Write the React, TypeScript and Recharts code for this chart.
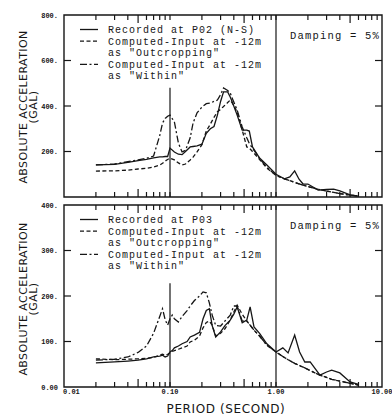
import React from "react";
import {
  LineChart,
  Line,
  XAxis,
  YAxis,
  ReferenceArea,
  ReferenceLine,
  Legend,
} from "recharts";

// period axis (log), shared by both panels
const X_TICKS = [
  0.01, 0.02, 0.03, 0.04, 0.05, 0.06, 0.07, 0.08, 0.09, 0.1, 0.2, 0.3, 0.4,
  0.5, 0.6, 0.7, 0.8, 0.9, 1, 2, 3, 4, 5, 6, 7, 8, 9, 10,
];
const X_LABELS = [0.01, 0.1, 1, 10];

const TOP_Y_TICKS = [200, 400, 600, 800];
const BOT_Y_TICKS = [0, 100, 200, 300, 400];

const TOP_LEGEND = [
  "Recorded at P02 (N-S)",
  "Computed-Input at -12m",
  'as "Outcropping"',
  "Computed-Input at -12m",
  'as "Within"',
];
const BOT_LEGEND = [
  "Recorded at P03",
  "Computed-Input at -12m",
  'as "Outcropping"',
  "Computed-Input at -12m",
  'as "Within"',
];
const DAMPING = "Damping = 5%";

// top panel: P02 (N-S)
const TOP_PERIOD = [
  0.02, 0.03, 0.04, 0.05, 0.06, 0.07, 0.08, 0.085, 0.09, 0.095,
  0.1, 0.11, 0.12, 0.13, 0.14, 0.155, 0.165, 0.18, 0.2, 0.22,
  0.24, 0.26, 0.28, 0.3, 0.32, 0.35, 0.37, 0.39, 0.43, 0.48,
  0.53, 0.56, 0.6, 0.7, 0.82, 1.0, 1.2, 1.35, 1.5, 1.65,
  1.8, 2.0, 2.5, 3.0, 3.5, 4.0, 5.0, 6.0,
];
const TOP_REC = [
  141, 143, 152, 160, 165, 172, 176, 176, 178, 178,
  215, 198, 188, 186, 200, 220, 222, 225, 232, 280,
  300, 310, 360, 420, 462, 462, 440, 413, 360, 294,
  294, 290, 220, 171, 141, 100, 80, 88, 115, 78,
  57, 57, 30, 33, 35, 27, 9, 4,
];
const TOP_OUT = [
  114, 115, 118, 123, 126, 132, 140, 148, 158, 165,
  171, 163, 150, 141, 145, 163, 175, 198, 230, 290,
  320, 350, 375, 385, 398, 415, 426, 410, 374, 294,
  220, 215, 200, 165, 127, 95, 80, 72, 64, 58,
  52, 46, 34, 26, 20, 15, 8, 4,
];
const TOP_WIN = [
  141, 145, 155, 163, 170, 180, 270, 325, 345, 355,
  360, 330, 237, 198, 205, 260, 325, 370, 395, 410,
  413, 420, 426, 450, 479, 468, 457, 430, 382, 308,
  260, 235, 215, 170, 130, 95, 80, 72, 64, 58,
  52, 46, 34, 26, 20, 15, 8, 4,
];

// bottom panel: P03
const BOT_PERIOD = [
  0.02, 0.03, 0.04, 0.05, 0.06, 0.07, 0.08, 0.085, 0.09, 0.095,
  0.1, 0.105, 0.11, 0.12, 0.13, 0.145, 0.155, 0.17, 0.19, 0.205,
  0.22, 0.235, 0.25, 0.27, 0.3, 0.33, 0.37, 0.4, 0.43, 0.48,
  0.53, 0.57, 0.62, 0.7, 0.82, 1.0, 1.16, 1.3, 1.5, 1.67,
  1.87, 2.1, 2.6, 3.0, 3.35, 4.0, 5.0, 6.0,
];
const BOT_REC = [
  53, 55, 57, 59, 62, 66, 68, 70, 66, 68,
  77, 80, 86, 90, 95, 100, 110, 114, 120, 150,
  168, 172, 135, 110, 121, 135, 147, 160, 176, 141,
  147, 176, 132, 118, 95, 77, 86, 75, 114, 77,
  55, 55, 26, 33, 37, 31, 11, 6,
];
const BOT_OUT = [
  62, 60, 61, 62, 63, 65, 70, 72, 70, 72,
  75, 78, 80, 83, 86, 90, 99, 103, 112, 130,
  142, 145, 136, 112, 118, 128, 147, 165, 180, 160,
  145, 136, 125, 112, 92, 77, 67, 60, 52, 47,
  42, 36, 26, 21, 17, 13, 8, 4,
];
const BOT_WIN = [
  59, 61, 66, 76, 90, 118, 155, 172, 148, 136,
  150, 158, 150, 143, 155, 168, 178, 190, 200, 209,
  207, 185, 158, 135, 134, 145, 158, 178, 178, 145,
  145, 136, 125, 112, 92, 77, 67, 60, 52, 47,
  42, 36, 26, 21, 17, 13, 8, 4,
];

const INK = "#161616";
const MONO = "'Liberation Mono', 'DejaVu Sans Mono', monospace";
const SANS = "'DejaVu Sans', sans-serif";
const PLOT_L = 64;
const PLOT_R = 382;
const DASH = ["", "4 2.5", "7 2.5 2 2.5"];

const build = (p: number[], a: number[], b: number[], c: number[]) =>
  p.map((T, i) => ({ T, rec: a[i], out: b[i], win: c[i] }));

const topData = build(TOP_PERIOD, TOP_REC, TOP_OUT, TOP_WIN);
const botData = build(BOT_PERIOD, BOT_REC, BOT_OUT, BOT_WIN);

function XTick(props: any) {
  const { x, payload, top, bottom, labels } = props;
  const v = payload.value;
  const edge = v === 0.01 || v === 10;
  const m = v / Math.pow(10, Math.floor(Math.log10(v) + 1e-9));
  const len = Math.abs(m - 5) < 1e-6 ? 8 : 5;
  const isLabel = labels && X_LABELS.some((l) => Math.abs(l - v) < 1e-9);
  return (
    <g>
      {!edge && (
        <>
          <line x1={x} x2={x} y1={bottom} y2={bottom - len} stroke={INK} strokeWidth={1.2} />
          <line x1={x} x2={x} y1={top} y2={top + len} stroke={INK} strokeWidth={1.2} />
        </>
      )}
      {isLabel && (
        <text
          x={v === 0.01 ? x - 1 : x}
          y={bottom + 7}
          textAnchor={v === 0.01 ? "start" : "middle"}
          fontFamily={MONO}
          fontWeight="bold"
          fontSize={7}
          fill={INK}
        >
          {v.toFixed(2)}
        </text>
      )}
    </g>
  );
}

function YTick(props: any) {
  const { y, payload, max } = props;
  const v = payload.value;
  const inner = v !== 0 && v !== max;
  return (
    <g>
      {inner && (
        <>
          <line x1={PLOT_L} x2={PLOT_L + 7} y1={y} y2={y} stroke={INK} strokeWidth={1.2} />
          <line x1={PLOT_R} x2={PLOT_R - 7} y1={y} y2={y} stroke={INK} strokeWidth={1.2} />
        </>
      )}
      <text
        x={58}
        y={y + 2.5}
        textAnchor="end"
        fontFamily={MONO}
        fontWeight="bold"
        fontSize={7}
        fill={INK}
      >
        {v === 0 ? "0.00" : `${v}.`}
      </text>
    </g>
  );
}

const yTitle = (cy: number) => () =>
  (
    <g fill={INK} fontFamily={SANS} fontSize={11} letterSpacing={0.4}>
      <text x={27} y={cy} textAnchor="middle" transform={`rotate(-90, 27, ${cy})`}>
        ABSOLUTE ACCELERATION
      </text>
      <text x={37} y={cy} textAnchor="middle" transform={`rotate(-90, 37, ${cy})`}>
        (GAL)
      </text>
    </g>
  );

const legendBox = (rows: string[], firstBase: number) => () =>
  (
    <svg width={392} height={100} style={{ position: "absolute", left: 0, top: 0, overflow: "visible" }}>
      {rows.map((t, i) => (
        <text
          key={i}
          x={108}
          y={firstBase + i * 11.6}
          fontFamily={MONO}
          fontSize={10}
          letterSpacing={1}
          fill={INK}
        >
          {t}
        </text>
      ))}
      {[0, 1, 3].map((r, k) => (
        <line
          key={r}
          x1={80}
          x2={98}
          y1={firstBase + r * 11.6 - 3.5}
          y2={firstBase + r * 11.6 - 3.5}
          stroke={INK}
          strokeWidth={1.3}
          strokeDasharray={DASH[k]}
        />
      ))}
      <text x={290} y={firstBase + 6} fontFamily={MONO} fontSize={10.5} letterSpacing={1.2} fill={INK}>
        {DAMPING}
      </text>
    </svg>
  );

function Panel(props: {
  data: any[];
  height: number;
  top: number;
  bottom: number;
  xHeight: number;
  yMax: number;
  yTicks: number[];
  cut: number;
  legend: string[];
  legendBase: number;
  titleY: number;
  labels: boolean;
}) {
  const { data, height, top, bottom, xHeight, yMax, yTicks, cut, legend, legendBase, titleY, labels } = props;
  const plotBottom = height - bottom - xHeight;
  return (
    <LineChart width={392} height={height} data={data} margin={{ top, right: 10, left: 0, bottom }}>
      <XAxis
        dataKey="T"
        type="number"
        scale="log"
        domain={[0.01, 10]}
        allowDataOverflow
        ticks={X_TICKS}
        interval={0}
        height={xHeight}
        axisLine={false}
        tickLine={false}
        tick={<XTick top={top} bottom={plotBottom} labels={labels} />}
        label={
          labels
            ? () => (
                <text x={226} y={height - 3} textAnchor="middle" fontFamily={SANS} fontSize={12} letterSpacing={0.6} fill={INK}>
                  PERIOD (SECOND)
                </text>
              )
            : undefined
        }
      />
      <YAxis
        type="number"
        domain={[0, yMax]}
        ticks={yTicks}
        interval={0}
        width={PLOT_L}
        axisLine={false}
        tickLine={false}
        tick={<YTick max={yMax} />}
        label={yTitle(titleY)}
      />
      <ReferenceArea x1={0.01} x2={10} y1={0} y2={yMax} fill="none" stroke={INK} strokeWidth={1.4} />
      <ReferenceLine x={1} stroke={INK} strokeWidth={1.2} />
      <ReferenceLine segment={[{ x: 0.1, y: 0 }, { x: 0.1, y: cut }]} stroke={INK} strokeWidth={1.2} />
      <Legend
        layout="horizontal"
        verticalAlign="middle"
        align="center"
        wrapperStyle={{ left: 0, top: 0, width: 392, height: 0 }}
        content={legendBox(legend, legendBase)}
      />
      <Line dataKey="rec" type="linear" stroke={INK} strokeWidth={1.3} dot={false} activeDot={false} isAnimationActive={false} />
      <Line dataKey="out" type="linear" stroke={INK} strokeWidth={1.3} strokeDasharray={DASH[1]} dot={false} activeDot={false} isAnimationActive={false} />
      <Line dataKey="win" type="linear" stroke={INK} strokeWidth={1.3} strokeDasharray={DASH[2]} dot={false} activeDot={false} isAnimationActive={false} />
    </LineChart>
  );
}

export default function App() {
  return (
    <div style={{ position: "absolute", left: 0, top: 0, width: 392, height: 416, background: "#fff" }}>
      <div style={{ position: "absolute", left: 0, top: 0 }}>
        <Panel
          data={topData}
          height={200}
          top={15}
          bottom={2}
          xHeight={1}
          yMax={800}
          yTicks={TOP_Y_TICKS}
          cut={480}
          legend={TOP_LEGEND}
          legendBase={33}
          titleY={107}
          labels={false}
        />
      </div>
      <div style={{ position: "absolute", left: 0, top: 200 }}>
        <Panel
          data={botData}
          height={216}
          top={5}
          bottom={0}
          xHeight={29}
          yMax={400}
          yTicks={BOT_Y_TICKS}
          cut={228}
          legend={BOT_LEGEND}
          legendBase={23}
          titleY={99}
          labels={true}
        />
      </div>
    </div>
  );
}
